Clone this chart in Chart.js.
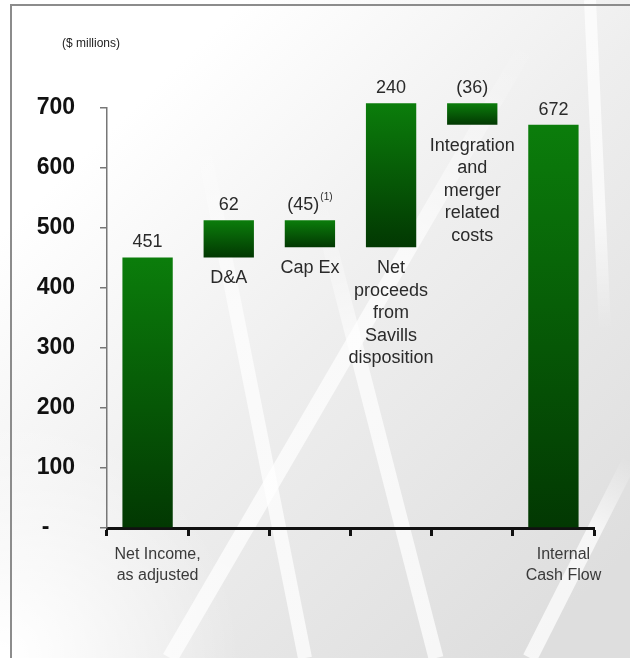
<!DOCTYPE html>
<html>
<head>
<meta charset="utf-8">
<title>Internal Cash Flow</title>
<script src="https://cdn.jsdelivr.net/npm/chart.js@4/dist/chart.umd.min.js"></script>
<style>
  html, body { margin: 0; padding: 0; background: #fff; }
  canvas { display: block; }
</style>
</head>
<body>
<canvas id="chart" width="630" height="658"></canvas>
<script>
const categories = [
  "Net Income, as adjusted",
  "D&A",
  "Cap Ex",
  "Net proceeds from Savills disposition",
  "Integration and merger related costs",
  "Internal Cash Flow",
];
const changes = [451, 62, -45, 240, -36, 672];
const isTotal = [true, false, false, false, false, true];
const axisLabels = [["Net Income,", "as adjusted"], "", "", "", "", ["Internal", "Cash Flow"]];
const barNotes = [
  [],
  ["D&A"],
  ["Cap Ex"],
  ["Net", "proceeds", "from", "Savills", "disposition"],
  ["Integration", "and", "merger", "related", "costs"],
  [],
];
const footnotes = ["", "", "(1)", "", "", ""];
const yTicks = [0, 100, 200, 300, 400, 500, 600, 700];

const FONT = "'Liberation Sans', Arial, sans-serif";

// running totals -> floating bar ranges
let running = 0;
const ranges = changes.map((v, i) => {
  if (isTotal[i]) {
    running = v;
    return [0, v];
  }
  const start = running;
  running += v;
  return [start, running];
});

const fmt = (v) => (v < 0 ? `(${-v})` : `${v}`);

const barGradient = (ctx) => {
  const chart = ctx.chart;
  if (!chart.chartArea) return "#066606";
  const y = chart.scales.y;
  const [a, b] = ranges[ctx.dataIndex];
  const top = y.getPixelForValue(Math.max(a, b));
  const bottom = y.getPixelForValue(Math.min(a, b));
  const g = chart.ctx.createLinearGradient(0, top, 0, bottom);
  g.addColorStop(0, "#0b7d0b");
  g.addColorStop(1, "#023802");
  return g;
};

const backdrop = {
  id: "backdrop",
  beforeDraw(chart) {
    const { ctx, width, height } = chart;
    ctx.save();
    const g = ctx.createLinearGradient(120, 120, 580, 600);
    g.addColorStop(0, "#ffffff");
    g.addColorStop(0.45, "#eeeeee");
    g.addColorStop(1, "#dedede");
    ctx.fillStyle = g;
    ctx.fillRect(0, 0, width, height);

    const r = ctx.createRadialGradient(0, height, 10, 0, height, 240);
    r.addColorStop(0, "rgba(255,255,255,1)");
    r.addColorStop(1, "rgba(255,255,255,0)");
    ctx.fillStyle = r;
    ctx.fillRect(0, 0, width, height);

    // pale diagonal beams, each fading in from its first end
    ctx.lineCap = "butt";
    const beams = [
      [530, 40, 170, 658, 16],
      [200, 130, 305, 658, 14],
      [318, 200, 436, 658, 15],
      [630, 460, 530, 658, 15],
      [605, 330, 590, 0, 12],
    ];
    beams.forEach(([x1, y1, x2, y2, w]) => {
      const s = ctx.createLinearGradient(x1, y1, x2, y2);
      s.addColorStop(0, "rgba(255,255,255,0)");
      s.addColorStop(0.35, "rgba(255,255,255,0.7)");
      s.addColorStop(1, "rgba(255,255,255,0.75)");
      ctx.strokeStyle = s;
      ctx.lineWidth = w;
      ctx.beginPath();
      ctx.moveTo(x1, y1);
      ctx.lineTo(x2, y2);
      ctx.stroke();
    });

    // frame
    ctx.strokeStyle = "#8c8c8c";
    ctx.lineWidth = 2;
    ctx.beginPath();
    ctx.moveTo(11, height);
    ctx.lineTo(11, 5);
    ctx.lineTo(width, 5);
    ctx.stroke();

    ctx.fillStyle = "#222";
    ctx.font = `12px ${FONT}`;
    ctx.textAlign = "left";
    ctx.textBaseline = "middle";
    ctx.fillText("($ millions)", 62, 44);
    ctx.restore();
  },
};

const barText = {
  id: "barText",
  afterDatasetsDraw(chart) {
    const { ctx } = chart;
    const bars = chart.getDatasetMeta(0).data;
    ctx.save();
    ctx.fillStyle = "#2a2a2a";
    bars.forEach((bar, i) => {
      const top = Math.min(bar.y, bar.base);
      const bottom = Math.max(bar.y, bar.base);

      const text = fmt(changes[i]);
      ctx.font = `18px ${FONT}`;
      const w1 = ctx.measureText(text).width;
      ctx.font = `10px ${FONT}`;
      const w2 = footnotes[i] ? ctx.measureText(footnotes[i]).width + 1 : 0;
      const left = bar.x - (w1 + w2) / 2;

      ctx.textAlign = "left";
      ctx.textBaseline = "alphabetic";
      ctx.font = `18px ${FONT}`;
      ctx.fillText(text, left, top - 10);
      if (footnotes[i]) {
        ctx.font = `10px ${FONT}`;
        ctx.fillText(footnotes[i], left + w1 + 1, top - 20);
      }

      ctx.font = `18px ${FONT}`;
      ctx.textAlign = "center";
      ctx.textBaseline = "middle";
      barNotes[i].forEach((line, k) => {
        ctx.fillText(line, bar.x, bottom + 21 + k * 22.5);
      });
    });
    ctx.restore();
  },
};

new Chart(document.getElementById("chart"), {
  type: "bar",
  data: {
    labels: categories,
    datasets: [
      {
        data: ranges,
        backgroundColor: barGradient,
        borderWidth: 0,
        barPercentage: 0.62,
        categoryPercentage: 1,
        clip: false,
      },
    ],
  },
  options: {
    responsive: false,
    devicePixelRatio: 1,
    animation: false,
    layout: { padding: { left: 10, top: 108, right: 36, bottom: 0 } },
    plugins: {
      legend: { display: false },
      tooltip: { enabled: false },
    },
    scales: {
      x: {
        type: "category",
        grid: {
          offset: true,
          drawOnChartArea: false,
          tickLength: 8,
          tickWidth: 3,
          color: "#111",
        },
        border: { color: "#111", width: 3 },
        ticks: {
          autoSkip: false,
          maxRotation: 0,
          padding: 8,
          labelOffset: 10,
          color: "#3a3a3a",
          font: { family: FONT, size: 16, lineHeight: 1.3 },
          callback: (v, i) => axisLabels[i],
        },
        afterFit: (scale) => {
          scale.height = 130;
        },
      },
      y: {
        min: 0,
        max: 700,
        afterBuildTicks: (scale) => {
          scale.ticks = yTicks.map((value) => ({ value }));
        },
        grid: {
          drawOnChartArea: false,
          tickLength: 7,
          lineWidth: 1.5,
          color: "#777",
        },
        border: { color: "#777", width: 1.5 },
        ticks: {
          padding: 25,
          color: "#111",
          font: { family: FONT, size: 23, weight: "bold" },
          callback: (v) => (v === 0 ? "-    " : v),
        },
        afterFit: (scale) => {
          scale.width = 97;
        },
      },
    },
  },
  plugins: [backdrop, barText],
});
</script>
</body>
</html>
